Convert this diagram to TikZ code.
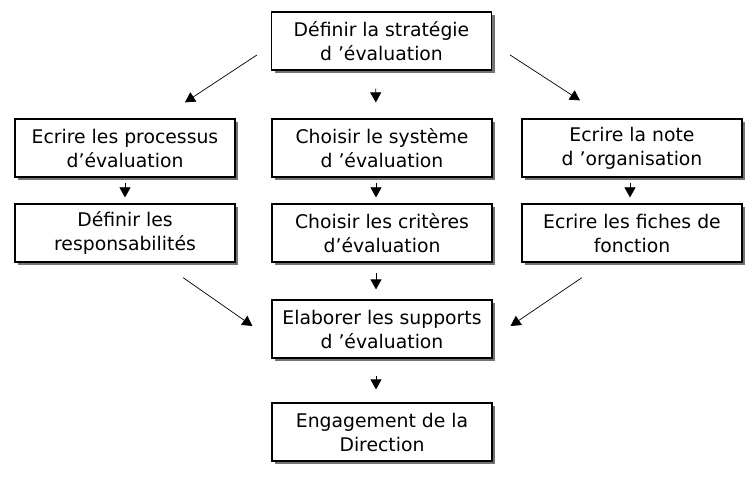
\documentclass[tikz,border=0pt]{standalone}
\usepackage{fontspec}
\setmainfont{DejaVu Sans}
\usetikzlibrary{arrows.meta,shadows}
\begin{document}
\begin{tikzpicture}[
        x=1pt, y=-1pt,
        font=\fontsize{18.8}{24}\selectfont,
        etape/.style={
            rectangle, draw=black, line width=1.2pt,
            fill=white, minimum width=220pt,
            minimum height=58pt, align=center, inner sep=0pt,
            drop shadow={shadow xshift=3pt, shadow yshift=-3pt,
                fill=black!55, opacity=1}
        },
        arr/.style={-{Triangle[width=11pt,length=10pt]}, line width=0.7pt}
    ]
    \useasboundingbox (0,0) rectangle (755,481);

    % Top step
    \node[etape] (strat) at (381.5, 41) {Définir la stratégie\\d ’évaluation};

    % First row
    \node[etape] (proc) at (125, 148) {Ecrire les processus\\d’évaluation};
    \node[etape] (syst) at (382, 148) {Choisir le système\\d ’évaluation};
    \node[etape] (note) at (632, 148) {Ecrire la note\\d ’organisation};

    % Second row
    \node[etape] (resp) at (125, 233) {Définir les\\responsabilités};
    \node[etape] (crit) at (382, 233) {Choisir les critères\\d’évaluation};
    \node[etape] (fich) at (632, 233) {Ecrire les fiches de\\fonction};

    % Bottom steps
    \node[etape] (supp) at (382, 329) {Elaborer les supports\\d ’évaluation};
    \node[etape] (dir)  at (382, 432) {Engagement de la\\Direction};

    % Arrows from the top step
    \draw[arr] ([shift={(-14,14)}]strat.west) -- ([shift={(60,-16)}]proc.north);
    \draw[arr, shorten <=18pt, shorten >=16pt]
        ([xshift=-6]strat.south) -- ([xshift=-6]syst.north);
    \draw[arr] ([shift={(18,14)}]strat.east) -- ([shift={(-52,-18)}]note.north);

    % Arrows inside the columns
    \draw[arr, shorten <=5pt, shorten >=6pt] (proc.south) -- (resp.north);
    \draw[arr, shorten <=5pt, shorten >=6pt]
        ([xshift=-6]syst.south) -- ([xshift=-6]crit.north);
    \draw[arr, shorten <=5pt, shorten >=6pt]
        ([xshift=-2]note.south) -- ([xshift=-2]fich.north);

    % Arrows towards the supports
    \draw[arr] ([shift={(58,15)}]resp.south) -- ([shift={(-19,-3)}]supp.west);
    \draw[arr, shorten <=10pt, shorten >=10pt]
        ([xshift=-6]crit.south) -- ([xshift=-6]supp.north);
    \draw[arr] ([shift={(-50,15)}]fich.south) -- ([shift={(18,-3)}]supp.east);

    % Arrow to the management
    \draw[arr, shorten <=17pt, shorten >=13pt]
        ([xshift=-6]supp.south) -- ([xshift=-6]dir.north);

    \end{tikzpicture}
\end{document}
